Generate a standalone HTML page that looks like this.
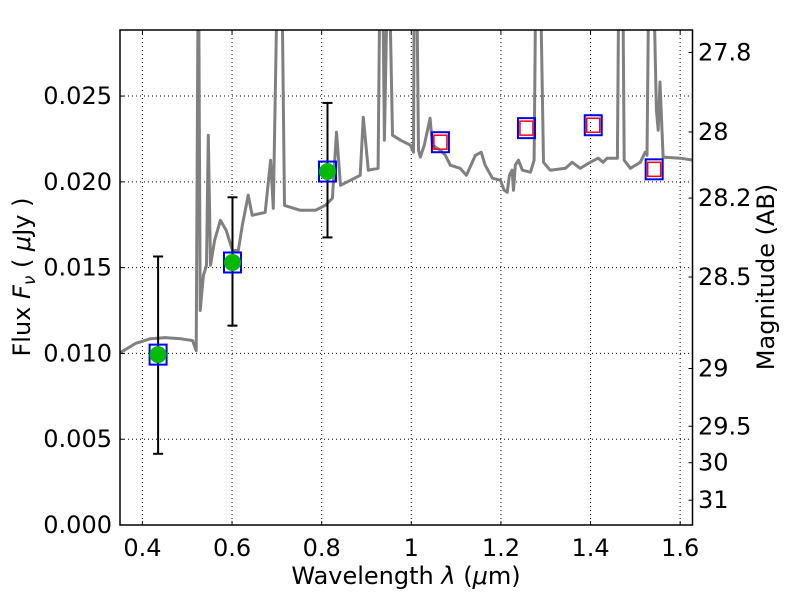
<!DOCTYPE html>
<html><head><meta charset="utf-8"><style>
body{margin:0;background:#fff}
svg text{font-family:"DejaVu Sans","Liberation Sans",sans-serif;fill:#000}
</style></head><body>
<svg id="chart" width="800" height="600" xmlns="http://www.w3.org/2000/svg">
<rect width="800" height="600" fill="#fff"/>
<defs><clipPath id="clip"><rect x="120" y="30" width="573" height="495"/></clipPath></defs>
<g id="grid"></g>
<g id="spec" clip-path="url(#clip)"></g>
<g id="marks"></g>
<g id="axes"></g>
</svg>
<script>
const specWl=[0.351,0.384,0.418,0.451,0.485,0.512,0.520,0.525,0.529,0.536,0.543,0.547,0.552,0.561,0.574,0.587,0.601,0.614,0.623,0.636,0.645,0.674,0.686,0.692,0.703,0.710,0.717,0.752,0.786,0.808,0.824,0.833,0.842,0.886,0.893,0.904,0.926,0.931,0.935,0.940,0.949,0.958,0.976,0.998,1.005,1.007,1.011,1.016,1.020,1.029,1.042,1.047,1.065,1.076,1.087,1.109,1.123,1.143,1.156,1.165,1.181,1.199,1.207,1.214,1.219,1.225,1.228,1.232,1.239,1.248,1.266,1.274,1.279,1.286,1.295,1.310,1.344,1.359,1.377,1.399,1.417,1.428,1.437,1.460,1.464,1.471,1.475,1.489,1.511,1.522,1.526,1.531,1.538,1.547,1.551,1.555,1.562,1.600,1.629];
const specFlux=[0.01005,0.01057,0.01086,0.01092,0.01086,0.01075,0.01016,0.035,0.0125,0.01454,0.01513,0.02272,0.01513,0.01659,0.01776,0.01717,0.016,0.016,0.01746,0.01922,0.01805,0.01822,0.02126,0.01846,0.035,0.035,0.01863,0.01834,0.01834,0.01863,0.01904,0.0229,0.0198,0.02038,0.02377,0.02068,0.02079,0.035,0.035,0.02243,0.035,0.02272,0.02243,0.02214,0.02173,0.035,0.035,0.02184,0.02144,0.02214,0.02371,0.02214,0.02184,0.02155,0.02097,0.02079,0.02038,0.02155,0.02173,0.02097,0.02021,0.02009,0.01951,0.01939,0.02038,0.02068,0.01951,0.02097,0.02126,0.02068,0.02056,0.02126,0.035,0.035,0.02114,0.02068,0.02079,0.02114,0.02079,0.02114,0.02138,0.02114,0.02138,0.02138,0.035,0.035,0.02126,0.02079,0.02114,0.02173,0.02155,0.035,0.035,0.02418,0.02301,0.02582,0.02144,0.02138,0.02126];
const obsWl=[0.435,0.601,0.813];
const obsFlux=[0.00993,0.0153,0.0206];
const obsErrLo=[0.00415,0.01162,0.01676];
const obsErrHi=[0.01565,0.0191,0.0246];
const modelWl=[0.435,0.601,0.813,1.065,1.257,1.406,1.542];
const modelFlux=[0.00993,0.0153,0.0206,0.02231,0.02313,0.0233,0.02073];
const predWl=[1.065,1.257,1.406,1.542];
const predFlux=[0.02231,0.02313,0.0233,0.02073];
const xTicks=[0.4,0.6,0.8,1.0,1.2,1.4,1.6];
const xTickLabels=["0.4","0.6","0.8","1","1.2","1.4","1.6"];
const yTicks=[0,0.005,0.010,0.015,0.020,0.025];
const yTickLabels=["0.000","0.005","0.010","0.015","0.020","0.025"];
const magTicks=[27.8,28,28.2,28.5,29,29.5,30,31];
const magTickLabels=["27.8","28","28.2","28.5","29","29.5","30","31"];

const X0=120,X1=692.5,Y0=30,Y1=525;
const xmin=0.35,xmax=1.6275,ymin=0,ymax=0.02885;
const xs=v=>X0+(v-xmin)/(xmax-xmin)*(X1-X0);
const ys=v=>Y1-(v-ymin)/(ymax-ymin)*(Y1-Y0);
const magToFlux=m=>Math.pow(10,(23.9-m)/2.5);
const NS="http://www.w3.org/2000/svg";
function mk(tag,parent,attrs){const e=document.createElementNS(NS,tag);for(const k in attrs)e.setAttribute(k,attrs[k]);parent.appendChild(e);return e;}
const grid=document.getElementById('grid'),spec=document.getElementById('spec'),marks=document.getElementById('marks'),axes=document.getElementById('axes');
const FS=24;

xTicks.forEach((t,i)=>{
  const x=xs(t);
  const g=mk('line',grid,{x1:x,x2:x,y1:Y0,y2:Y1,stroke:'#000','stroke-width':1,'stroke-dasharray':'1,3'});
  
  
  mk('line',axes,{x1:x,x2:x,y1:Y1,y2:Y1-4,stroke:'#000'});
  mk('line',axes,{x1:x,x2:x,y1:Y0,y2:Y0+4,stroke:'#000'});
  const tl=mk('text',axes,{x:x,y:556,'font-size':FS,'text-anchor':'middle'});
  tl.textContent=xTickLabels[i];
  
  
});
yTicks.forEach((t,i)=>{
  const y=ys(t);
  const g=mk('line',grid,{x1:X0,x2:X1,y1:y,y2:y,stroke:'#000','stroke-width':1,'stroke-dasharray':'1,3'});
  
  
  mk('line',axes,{x1:X0,x2:X0+4,y1:y,y2:y,stroke:'#000'});
  const tl=mk('text',axes,{x:112,y:y+8,'font-size':FS,'text-anchor':'end'});
  tl.textContent=yTickLabels[i];
  
  
});
magTicks.forEach((m,i)=>{
  const y=ys(magToFlux(m));
  mk('line',axes,{x1:X1,x2:X1-4,y1:y,y2:y,stroke:'#000'});
  const tl=mk('text',axes,{x:698,y:y+8,'font-size':FS});
  tl.textContent=magTickLabels[i];
  
  
});

const pts=specWl.map((w,i)=>xs(w).toFixed(1)+','+ys(specFlux[i]).toFixed(1)).join(' ');
const sp=mk('polyline',spec,{points:pts,fill:'none',stroke:'#808080','stroke-width':3,'stroke-linejoin':'round'});



obsWl.forEach((w,i)=>{
  const x=xs(w),y1=ys(obsErrLo[i]),y2=ys(obsErrHi[i]);
  const e=mk('g',marks,{});
  
  
  mk('line',e,{x1:x,x2:x,y1:y1,y2:y2,stroke:'#000','stroke-width':2});
  mk('line',e,{x1:x-5,x2:x+5,y1:y1,y2:y1,stroke:'#000','stroke-width':2});
  mk('line',e,{x1:x-5,x2:x+5,y1:y2,y2:y2,stroke:'#000','stroke-width':2});
});
modelWl.forEach((w,i)=>{
  const s=mk('rect',marks,{x:xs(w)-8.5,y:ys(modelFlux[i])-10,width:17,height:20,fill:'none',stroke:'#0000ff','stroke-width':2});
  
  
});
predWl.forEach((w,i)=>{
  const s=mk('rect',marks,{x:xs(w)-6.5,y:ys(predFlux[i])-7,width:13,height:14,fill:'none',stroke:'#ff0000','stroke-width':1.5});
  
  
});
obsWl.forEach((w,i)=>{
  const c=mk('circle',marks,{cx:xs(w),cy:ys(obsFlux[i]),r:8.5,fill:'#00bb00'});
  
  
});

const fr=mk('rect',axes,{x:X0,y:Y0,width:X1-X0,height:Y1-Y0,fill:'none',stroke:'#000','stroke-width':1.5});


const xl=mk('text',axes,{x:406,y:584,'font-size':FS,'text-anchor':'middle'});
xl.innerHTML='Wavelength  <tspan font-style="italic">λ</tspan> (<tspan font-style="italic">μ</tspan>m)';


const yl=mk('text',axes,{x:0,y:0,'font-size':FS,'text-anchor':'middle',transform:'translate(30,277) rotate(-90)'});
yl.innerHTML='Flux  <tspan font-style="italic">F</tspan><tspan font-style="italic" font-size="17" dy="5">ν</tspan><tspan dy="-5">  (  </tspan><tspan font-style="italic">μ</tspan>Jy )';


const rl=mk('text',axes,{x:0,y:0,'font-size':FS,'text-anchor':'middle',transform:'translate(774,277) rotate(-90)'});
rl.textContent='Magnitude (AB)';


</script>
</body></html>
